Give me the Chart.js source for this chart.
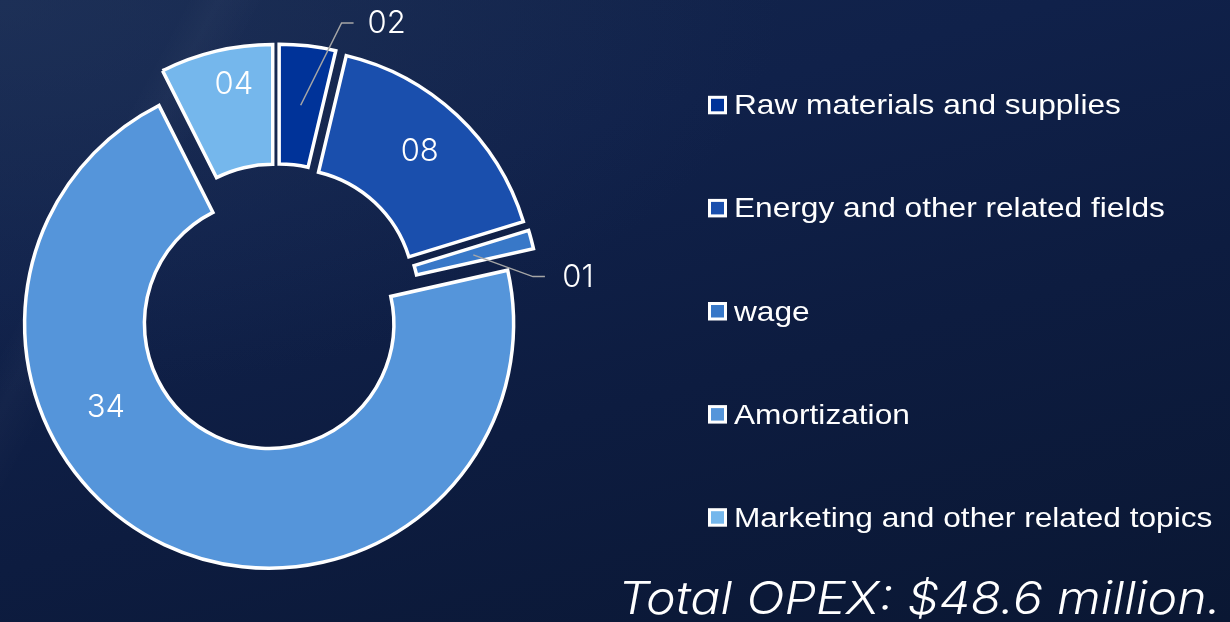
<!DOCTYPE html>
<html>
<head>
<meta charset="utf-8">
<title>OPEX breakdown</title>
<script src="https://cdn.jsdelivr.net/npm/chart.js@4.4.1/dist/chart.umd.min.js"></script>
<style>
  html, body { margin: 0; padding: 0; }
  body {
    width: 1230px; height: 622px; overflow: hidden;
    background:
      linear-gradient(118deg, rgba(255,255,255,0) 12%, rgba(255,255,255,0.025) 14%, rgba(255,255,255,0) 17%),
      radial-gradient(ellipse at 0% 0%, rgba(40,60,100,0.45) 0%, rgba(40,60,100,0) 45%),
      linear-gradient(165deg, #14264c 0%, #10214a 30%, #0d1c40 60%, #0a1733 100%);
  }
  canvas { display: block; }
</style>
</head>
<body>
<canvas id="opex" width="1230" height="622"></canvas>
<script>
const categories = ['Raw materials and supplies', 'Energy and other related fields', 'wage', 'Amortization', 'Marketing and other related topics'];
const costs = [1.8, 8.0, 0.6, 34.4, 3.6];
const totalLabel = 'Total OPEX: $48.6 million.';
const sliceColors = ['#003399', '#1a4fad', '#3878c8', '#5595da', '#75b7ec'];

// look of the exploded ring and its labels
const EXPLODE = 18.5;
const labelShift = [15.4, -0.6, 9.9, 37.4, 2.6];      // degrees away from slice middle
const labelDist = [1.168, 0.787, 1.162, 0.751, 0.85]; // times outer radius
const labelFont = '300 31px Inter, "Open Sans", sans-serif';

// push every slice out from the centre along its middle angle
const explode = {
  id: 'explode',
  beforeDatasetDraw(chart, args) {
    const ctx = chart.ctx;
    args.meta.data.forEach(arc => {
      const mid = (arc.startAngle + arc.endAngle) / 2;
      ctx.save();
      ctx.translate(Math.cos(mid) * EXPLODE, Math.sin(mid) * EXPLODE);
      arc.draw(ctx);
      ctx.restore();
    });
    return false;
  }
};

const sliceLabels = {
  id: 'sliceLabels',
  afterDatasetsDraw(chart) {
    const ctx = chart.ctx;
    const meta = chart.getDatasetMeta(0);
    ctx.save();
    meta.data.forEach((arc, i) => {
      const mid = (arc.startAngle + arc.endAngle) / 2;
      const cx = arc.x + Math.cos(mid) * EXPLODE;
      const cy = arc.y + Math.sin(mid) * EXPLODE;
      const a = mid + labelShift[i] * Math.PI / 180;
      const r = arc.outerRadius * labelDist[i];
      const tx = cx + Math.cos(a) * r;
      const ty = cy + Math.sin(a) * r;
      if (labelDist[i] > 1) {
        const mr = (arc.innerRadius + arc.outerRadius) / 2;
        ctx.strokeStyle = '#a6a6a6';
        ctx.lineWidth = 1.5;
        ctx.beginPath();
        ctx.moveTo(cx + Math.cos(mid) * mr, cy + Math.sin(mid) * mr);
        ctx.lineTo(tx - 45, ty - 1);
        ctx.lineTo(tx - 33, ty - 1);
        ctx.stroke();
      }
      ctx.fillStyle = '#ffffff';
      ctx.font = labelFont;
      ctx.textAlign = 'center';
      ctx.textBaseline = 'middle';
      const v = Math.round(chart.data.datasets[0].data[i]);
      ctx.fillText(String(v).padStart(2, '0'), tx, ty);
    });
    ctx.restore();
  }
};

const sideLegend = {
  id: 'sideLegend',
  afterDraw(chart) {
    const ctx = chart.ctx;
    const ds = chart.data.datasets[0];
    ctx.save();
    chart.data.labels.forEach((label, i) => {
      const base = 114.3 + i * 103.1;
      ctx.fillStyle = '#ffffff';
      ctx.fillRect(708, base - 18.5, 19, 18.5);
      ctx.fillStyle = ds.backgroundColor[i];
      ctx.fillRect(711, base - 15.5, 13, 12.5);
      ctx.save();
      ctx.translate(734, base);
      ctx.scale(1.11, 1);
      ctx.font = '28.5px "Liberation Sans", Arial, sans-serif';
      ctx.fillStyle = '#ffffff';
      ctx.textBaseline = 'alphabetic';
      ctx.fillText(label, 0, 0);
      ctx.restore();
    });

    // total line, bottom right
    ctx.font = 'italic 300 45px Inter, "Open Sans", sans-serif';
    const w = ctx.measureText(totalLabel).width;
    ctx.translate(1221, 613.5);
    ctx.scale(603 / w, 1);
    ctx.textAlign = 'right';
    ctx.textBaseline = 'alphabetic';
    ctx.fillStyle = '#ffffff';
    ctx.fillText(totalLabel, 0, 0);
    ctx.restore();
  }
};

new Chart(document.getElementById('opex'), {
  type: 'doughnut',
  data: {
    labels: categories,
    datasets: [{
      data: costs,
      backgroundColor: sliceColors,
      borderColor: '#ffffff',
      borderWidth: 3.5,
      borderJoinStyle: 'miter'
    }]
  },
  options: {
    responsive: false,
    animation: false,
    devicePixelRatio: 1,
    cutout: '51%',
    radius: 244.5,
    layout: { padding: { left: 0, top: 0, right: 676, bottom: 8 } },
    plugins: {
      legend: { display: false },
      tooltip: { enabled: false }
    }
  },
  plugins: [explode, sliceLabels, sideLegend]
});
</script>
</body>
</html>
